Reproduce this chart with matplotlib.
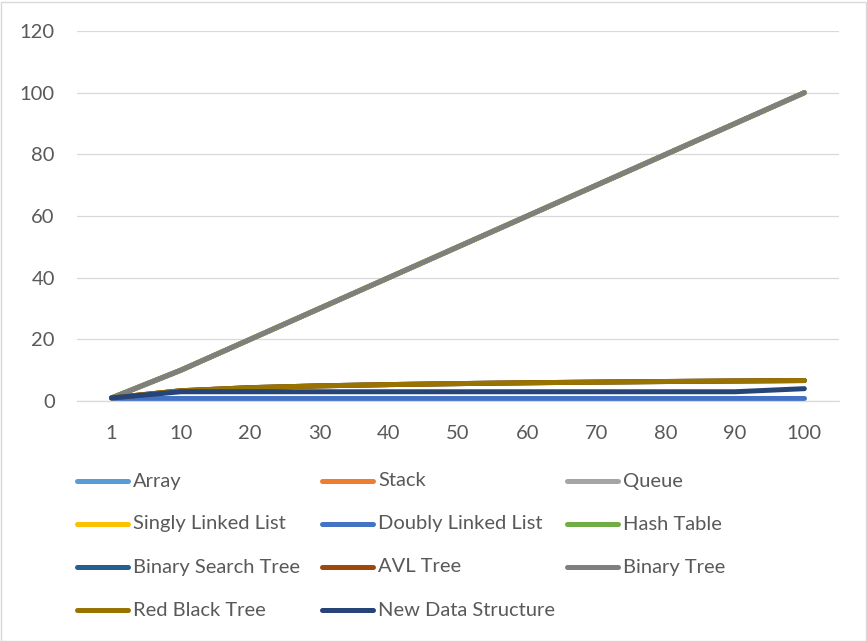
import matplotlib.pyplot as plt
from matplotlib.lines import Line2D
from matplotlib.patches import Rectangle

plt.rcParams['font.family'] = ['Lato', 'DejaVu Sans']

categories = ['1', '10', '20', '30', '40', '50', '60', '70', '80', '90', '100']

linear = [1, 10, 20, 30, 40, 50, 60, 70, 80, 90, 100]
log_vals = [1, 3.32, 4.32, 4.91, 5.32, 5.64, 5.91, 6.13, 6.32, 6.49, 6.64]
const_vals = [1, 1, 1, 1, 1, 1, 1, 1, 1, 1, 1]
new_vals = [1, 3, 3, 3, 3, 3, 3, 3, 3, 3, 4]

series_names = ['Array', 'Stack', 'Queue', 'Singly Linked List', 'Doubly Linked List',
                'Hash Table', 'Binary Search Tree', 'AVL Tree', 'Binary Tree',
                'Red Black Tree', 'New Data Structure']
series_values = [linear, linear, linear, linear, const_vals,
                 linear, log_vals, log_vals, linear,
                 log_vals, new_vals]
colors = ['#5B9BD5', '#ED7D31', '#A5A5A5', '#FFC000', '#4472C4',
          '#70AD47', '#255E91', '#9E480E', '#7F7F7F', '#997300', '#264478']

fig = plt.figure(figsize=(8.67, 6.41), dpi=100)
ax = fig.add_axes([77 / 867, 1 - 401 / 641, (839 - 77) / 867, (401 - 31) / 641])

x = list(range(len(categories)))
for name, vals, c in zip(series_names, series_values, colors):
    ax.plot(x, vals, color=c, lw=3.6, solid_capstyle='round', solid_joinstyle='round', label=name)

ax.set_xlim(-0.5, len(categories) - 0.5)
ax.set_ylim(0, 120)
ax.set_yticks(range(0, 121, 20))
ax.set_xticks(x)
ax.set_xticklabels(categories)
ax.tick_params(length=0, labelsize=14.5, colors='#595959')
ax.tick_params(axis='y', pad=16)
ax.tick_params(axis='x', pad=17)
ax.grid(axis='y', color='#D9D9D9', lw=0.9)
ax.set_axisbelow(True)
for s in ['top', 'right', 'left']:
    ax.spines[s].set_visible(False)
ax.spines['bottom'].set_color('#D9D9D9')
ax.spines['bottom'].set_linewidth(0.9)

# legend, three equal columns like the original
col_x = [77, 322, 567]
row_y = [481, 524, 567, 610]
for i, (name, c) in enumerate(zip(series_names, colors)):
    r, k = divmod(i, 3)
    x0 = col_x[k]
    y0 = 1 - row_y[r] / 641
    fig.add_artist(Line2D([x0 / 867, (x0 + 51) / 867], [y0, y0], color=c, lw=3.6,
                          solid_capstyle='round', transform=fig.transFigure))
    fig.text((x0 + 56) / 867, y0, name, fontsize=14.5, color='#595959',
             va='center', ha='left')

fig.add_artist(Rectangle((0.5 / 867, 0.5 / 641), 865 / 867, 639 / 641, fill=False,
                         edgecolor='#D9D9D9', lw=1, transform=fig.transFigure))

fig.savefig('out.png', dpi=100)
